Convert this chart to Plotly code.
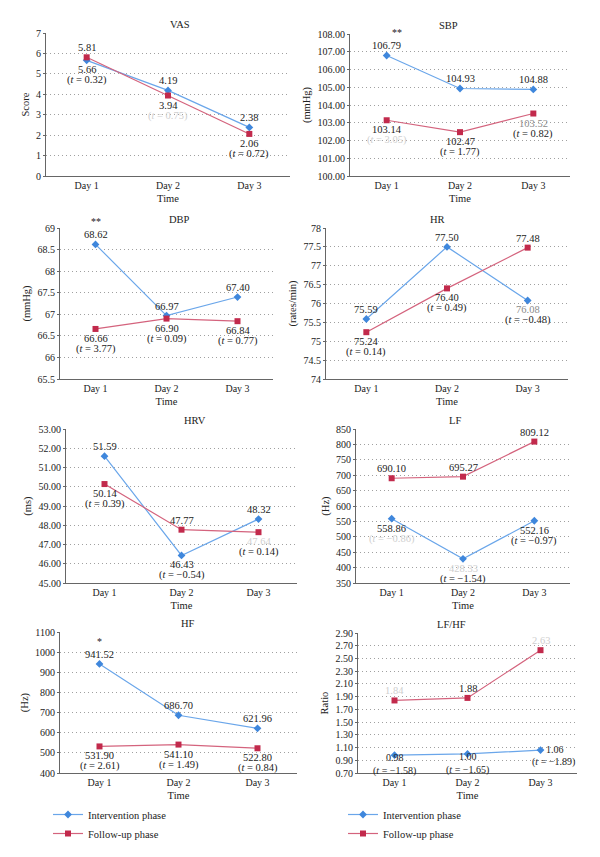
import plotly.graph_objects as go

days = ["Day 1", "Day 2", "Day 3"]

vas_int = [5.66, 4.19, 2.38]
vas_fu = [5.81, 3.94, 2.06]
vas_t = ["0.32", "0.75", "0.72"]

sbp_int = [106.79, 104.93, 104.88]
sbp_fu = [103.14, 102.47, 103.52]
sbp_t = ["3.05", "1.77", "0.82"]

dbp_int = [68.62, 66.97, 67.40]
dbp_fu = [66.66, 66.90, 66.84]
dbp_t = ["3.77", "0.09", "0.77"]

hr_int = [75.59, 77.50, 76.08]
hr_fu = [75.24, 76.40, 77.48]
hr_t = ["0.14", "0.49", "\u22120.48"]

hrv_int = [51.59, 46.43, 48.32]
hrv_fu = [50.14, 47.77, 47.64]
hrv_t = ["0.39", "\u22120.54", "0.14"]

lf_int = [558.86, 428.33, 552.16]
lf_fu = [690.10, 695.27, 809.12]
lf_t = ["\u22120.86", "\u22121.54", "\u22120.97"]

hf_int = [941.52, 686.70, 621.96]
hf_fu = [531.90, 541.10, 522.80]
hf_t = ["2.61", "1.49", "0.84"]

ratio_int = [0.98, 1.00, 1.06]
ratio_fu = [1.84, 1.88, 2.63]
ratio_t = ["\u22121.58", "\u22121.65", "\u22121.89"]

titles = ["VAS", "SBP", "DBP", "HR", "HRV", "LF", "HF", "LF/HF"]
ytitles = ["Score", "(mmHg)", "(mmHg)", "(rates/min)", "(ms)", "(Hz)", "(Hz)", "Ratio"]
stars = [["", "", ""], ["**", "", ""], ["**", "", ""], ["", "", ""],
         ["", "", ""], ["", "", ""], ["*", "", ""], ["", "", ""]]

series_int = [vas_int, sbp_int, dbp_int, hr_int, hrv_int, lf_int, hf_int, ratio_int]
series_fu = [vas_fu, sbp_fu, dbp_fu, hr_fu, hrv_fu, lf_fu, hf_fu, ratio_fu]
series_t = [vas_t, sbp_t, dbp_t, hr_t, hrv_t, lf_t, hf_t, ratio_t]

# ---- styling / layout (not data) ----
ranges = [[0, 7], [100, 108], [65.5, 69], [74, 78], [45, 53], [350, 850], [400, 1100], [0.7, 2.9]]
dticks = [1, 1, 0.5, 0.5, 1, 50, 100, 0.2]
fmts = ["", ".2f", "", "", ".2f", "", "", ".2f"]
# pixel boxes in the target picture: x0, x1, ytop, ybottom
boxes = [(46, 290, 33, 176), (350, 570, 34, 176),
         (60, 273, 228, 379), (326, 568, 228, 379),
         (66, 297, 429, 583), (356, 570, 429, 583),
         (60, 297, 632, 773), (358, 577, 633, 773)]
ipos = ["baa", "aaa", "aaa", "aab", "aba", "bbb", "aaa", "bbr"]
fpos = ["abb", "bbb", "bbb", "bba", "bab", "aaa", "bbb", "aaa"]
tser = ["iff", "fff", "fff", "ffi", "fif", "iii", "fff", "iii"]
faint = {(0, 1, "t"), (1, 0, "t"), (4, 2, "f"), (5, 0, "t"), (5, 1, "i"),
         (7, 0, "f"), (7, 2, "f")}
grayish = {(1, 2, "f"), (3, 2, "i")}

OFF = 8  # page body margin
W, H = 600 - OFF, 857 - OFF


def px_x(v):
    return (v - OFF) / W


def px_y(v):
    return 1 - (v - OFF) / H


FONT = "Liberation Serif"
BLUE_L, BLUE_M = "#6aa6ea", "#3f87dc"
RED_L, RED_M = "#d4637d", "#c22a4c"
TXT = "#222222"
FAINT = "#cfcfcf"
GRAY = "#8a8a8a"
LBL = 10.5

fig = go.Figure()
annotations = []
layout = dict(width=W, height=H, margin=dict(l=0, r=0, t=0, b=0),
              paper_bgcolor="white", plot_bgcolor="white",
              font=dict(family=FONT, size=10, color=TXT))

for p in range(8):
    n = p + 1
    xs = "" if n == 1 else str(n)
    x0, x1, yt, yb = boxes[p]
    xd = [px_x(x0), px_x(x1)]
    yd = [px_y(yb), px_y(yt)]
    legend_name = None
    show = False
    if p == 6:
        legend_name, show = "legend", True
    if p == 7:
        legend_name, show = "legend2", True
    tr_kw = dict(xaxis="x" + xs, yaxis="y" + xs, mode="lines+markers", cliponaxis=False)
    if legend_name:
        tr_kw["legend"] = legend_name
    fig.add_trace(go.Scatter(x=days, y=series_int[p], name="Intervention phase",
                             line=dict(color=BLUE_L, width=1.2),
                             marker=dict(symbol="diamond", size=6, color=BLUE_M),
                             showlegend=show, **tr_kw))
    fig.add_trace(go.Scatter(x=days, y=series_fu[p], name="Follow-up phase",
                             line=dict(color=RED_L, width=1.2),
                             marker=dict(symbol="square", size=6, color=RED_M),
                             showlegend=show, **tr_kw))
    layout["xaxis" + xs] = dict(domain=xd, anchor="y" + xs, type="category",
                                range=[-0.5, 2.5], showline=True, linecolor="#666",
                                linewidth=1, showgrid=False, ticks="",
                                tickfont=dict(size=10), automargin=False,
                                title=dict(text="Time", font=dict(size=10.5), standoff=4))
    layout["yaxis" + xs] = dict(domain=yd, anchor="x" + xs, range=ranges[p],
                                dtick=dticks[p], tick0=ranges[p][0], tickformat=fmts[p],
                                showline=True, linecolor="#666", linewidth=1,
                                showgrid=True, gridcolor="#a0a0a0", griddash="1px,3px",
                                gridwidth=1, zeroline=False, ticks="outside",
                                ticklen=2, tickcolor="#666", tickfont=dict(size=10),
                                automargin=False,
                                title=dict(text=ytitles[p], font=dict(size=10.5), standoff=4))
    annotations.append(dict(xref="paper", yref="paper", x=(xd[0] + xd[1]) / 2,
                            y=yd[1], yshift=1, yanchor="bottom", showarrow=False,
                            text=titles[p], font=dict(size=10.5, color=TXT)))

    tight = (p == 7)
    for d in range(3):
        for ser, vals, pos in (("i", series_int[p], ipos[p]), ("f", series_fu[p], fpos[p])):
            v = vals[d]
            key = (p, d, ser)
            col = FAINT if key in faint else (GRAY if key in grayish else TXT)
            mode = pos[d]
            fs = 10 if (tight and ser == "i") else LBL
            a = dict(xref="x" + xs, yref="y" + xs, x=days[d], y=v, showarrow=False,
                     text=f"{v:.2f}", font=dict(size=fs, color=col))
            t = None
            if tser[p][d] == ser:
                tcol = FAINT if (p, d, "t") in faint else TXT
                t = dict(xref="x" + xs, yref="y" + xs, x=days[d], y=v, showarrow=False,
                         text=f"(<i>t</i> = {series_t[p][d]})",
                         font=dict(size=fs, color=tcol))
            if mode == "a":
                a.update(yanchor="bottom", yshift=2)
            elif mode == "b":
                if tight:
                    a.update(yanchor="top", yshift=5)
                    if t:
                        t.update(yanchor="top", yshift=-8)
                else:
                    a.update(yanchor="top", yshift=-2)
                    if t:
                        t.update(yanchor="top", yshift=-12)
            else:  # right of the point
                a.update(yanchor="middle", xanchor="left", xshift=3, yshift=1)
                if t:
                    t.update(yanchor="middle", xanchor="center", xshift=13, yshift=-12)
            annotations.append(a)
            if t:
                annotations.append(t)
            if ser == "i" and stars[p][d]:
                annotations.append(dict(xref="x" + xs, yref="y" + xs, x=days[d], y=v,
                                        showarrow=False, text=stars[p][d],
                                        yanchor="bottom", yshift=15,
                                        xshift=10 if p == 1 else 0,
                                        font=dict(size=10, color=TXT)))

layout["annotations"] = annotations
layout["legend"] = dict(x=px_x(48), y=px_y(800), xanchor="left", yanchor="top",
                        font=dict(size=10.5), bgcolor="rgba(0,0,0,0)",
                        tracegroupgap=0, itemwidth=30)
layout["legend2"] = dict(x=px_x(343), y=px_y(800), xanchor="left", yanchor="top",
                         font=dict(size=10.5), bgcolor="rgba(0,0,0,0)",
                         tracegroupgap=0, itemwidth=30)
fig.update_layout(**layout)
fig.write_html("out.html")
